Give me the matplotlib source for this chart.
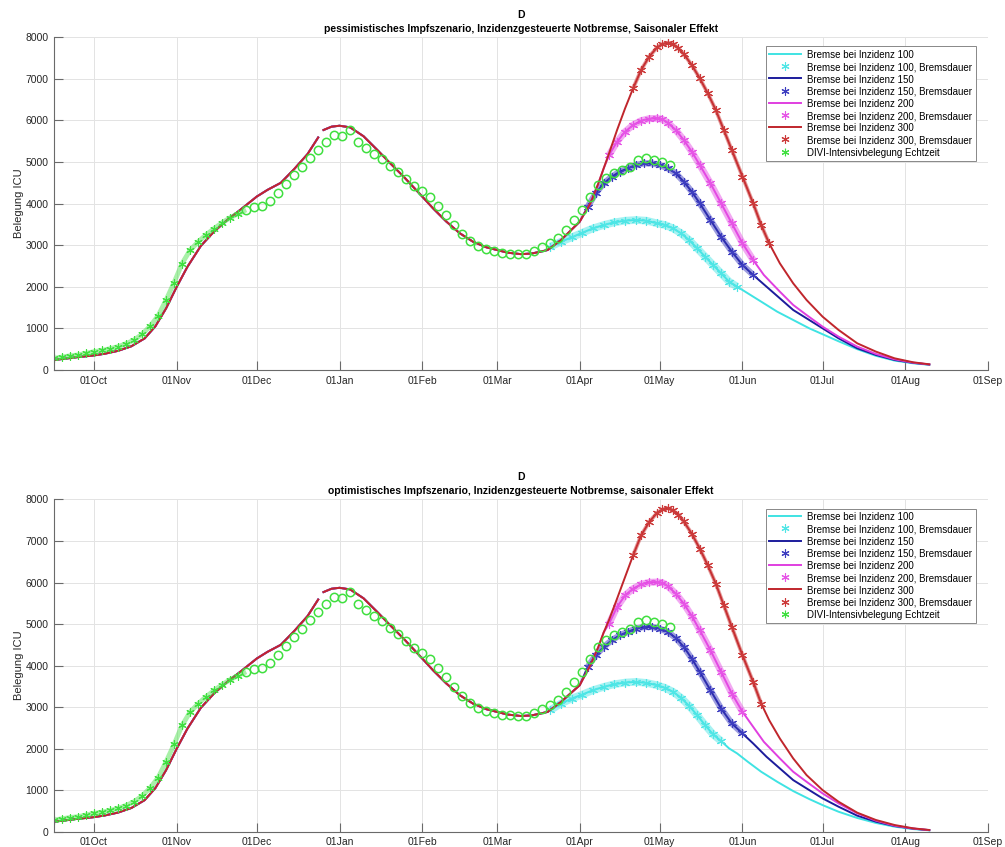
import numpy as np
import pandas as pd
import matplotlib
matplotlib.use("Agg")
import matplotlib.pyplot as plt
import matplotlib.dates as mdates

plt.rcParams['font.family'] = ['Liberation Sans', 'DejaVu Sans']


def to_dates(days):
    # "MM-DD" -> timestamp, season runs Sep 2020 .. Aug 2021
    out = []
    for d in days:
        year = 2020 if int(d[:2]) >= 9 else 2021
        out.append(pd.Timestamp(f"{year}-{d}"))
    return pd.DatetimeIndex(out)


# model curve shared by all scenarios (until mid March)
common_days = ["09-16", "09-20", "09-25", "10-01", "10-05", "10-10", "10-15", "10-20", "10-24",
               "10-28", "11-01", "11-05", "11-10", "11-15", "11-20", "11-25", "12-01", "12-05",
               "12-10", "12-15", "12-20", "12-24", "12-25", "12-26", "12-29", "01-01", "01-05",
               "01-10", "01-15", "01-20", "01-25", "02-01", "02-05", "02-10", "02-15", "02-20",
               "02-25", "03-01", "03-05", "03-10", "03-14", "03-17"]
common_vals = [240, 270, 310, 350, 390, 460, 570, 760, 1050,
               1480, 2000, 2480, 2980, 3330, 3610, 3860, 4170, 4330,
               4500, 4830, 5190, 5590, np.nan, 5770, 5850, 5873, 5833,
               5620, 5300, 4970, 4650, 4170, 3890, 3570, 3290, 3085,
               2950, 2885, 2820, 2785, 2800, 2840]

# DIVI ICU occupancy, every 3 days from 16 Sep 2020
divi_start = "2020-09-16"
divi_vals = [280, 310, 340, 360, 400, 440, 470, 510, 560, 630, 720, 860, 1050, 1300, 1680,
             2100, 2560, 2880, 3080, 3250, 3400, 3540, 3660, 3760, 3850, 3920, 3950, 4060,
             4250, 4470, 4680, 4880, 5090, 5290, 5490, 5650, 5620, 5780, 5480, 5330, 5200,
             5080, 4900, 4770, 4600, 4420, 4300, 4170, 3950, 3720, 3480, 3270, 3090, 2990,
             2900, 2860, 2820, 2800, 2780, 2790, 2850, 2960, 3045, 3165, 3365, 3606, 3846,
             4167, 4447, 4607, 4728, 4808, 4888, 5048, 5088, 5048, 5008, 4930]
divi_star_count = 24  # early values shown as asterisks, later ones as circles

# scenario curves after they split from the common curve
days_100 = ["03-21", "03-25", "03-29", "04-02", "04-06", "04-10", "04-14", "04-18", "04-22",
            "04-26", "04-30", "05-03", "05-06", "05-09", "05-12", "05-15", "05-18", "05-21",
            "05-24", "05-27", "05-30", "06-03", "06-08", "06-14", "06-20", "06-26", "07-01",
            "07-07", "07-14", "07-21", "07-28", "08-04", "08-10"]
days_150 = ["04-04", "04-07", "04-10", "04-13", "04-16", "04-19", "04-22", "04-25", "04-28",
            "05-01", "05-04", "05-07", "05-10", "05-13", "05-16", "05-20", "05-24", "05-28",
            "06-01", "06-05", "06-10", "06-15", "06-20", "06-25", "07-01", "07-07", "07-14",
            "07-21", "07-28", "08-04", "08-10"]
days_200 = ["04-10", "04-12", "04-15", "04-18", "04-21", "04-24", "04-27", "04-30", "05-02",
            "05-04", "05-07", "05-10", "05-13", "05-16", "05-20", "05-24", "05-28", "06-01",
            "06-05", "06-09", "06-15", "06-20", "06-25", "07-01", "07-07", "07-14", "07-21",
            "07-28", "08-04", "08-10"]
days_300 = ["03-20", "03-25", "04-01", "04-05", "04-08", "04-10", "04-12", "04-15", "04-18",
            "04-21", "04-24", "04-27", "04-30", "05-02", "05-04", "05-06", "05-08", "05-10",
            "05-13", "05-16", "05-19", "05-22", "05-25", "05-28", "06-01", "06-05", "06-08",
            "06-11", "06-15", "06-20", "06-25", "07-01", "07-07", "07-14", "07-21", "07-28",
            "08-04", "08-10"]

# pessimistic vaccination scenario (top)
top_100 = [2965, 3085, 3189, 3301, 3405, 3486, 3550, 3590, 3606, 3590, 3526, 3486, 3405, 3285,
           3125, 2925, 2724, 2524, 2324, 2123, 2003, 1843, 1643, 1402, 1202, 1002, 860, 690,
           500, 340, 225, 160, 125]
top_150 = [3926, 4247, 4487, 4647, 4768, 4848, 4928, 4968, 4968, 4928, 4848, 4728, 4527, 4287,
           4006, 3606, 3205, 2845, 2524, 2284, 2003, 1723, 1442, 1242, 1002, 761, 521, 361,
           240, 170, 130]
top_200 = [4850, 5168, 5489, 5729, 5889, 5994, 6042, 6050, 6026, 5946, 5769, 5529, 5248, 4928,
           4487, 4006, 3526, 3045, 2644, 2284, 1883, 1563, 1322, 1042, 801, 561, 385, 256,
           176, 133]
top_300 = [2885, 3125, 3566, 4006, 4487, 4850, 5208, 5769, 6290, 6771, 7212, 7532, 7756, 7837,
           7869, 7837, 7732, 7596, 7332, 7011, 6651, 6250, 5769, 5288, 4647, 4006, 3486, 3045,
           2564, 2083, 1683, 1282, 962, 641, 441, 280, 184, 136]
top_brake_start = ["03-20", "04-04", "04-12", "04-20"]
top_brake_end = ["05-30", "06-05", "06-08", "06-12"]

# optimistic vaccination scenario (bottom)
bot_100 = [2926, 3086, 3206, 3303, 3407, 3487, 3551, 3591, 3607, 3583, 3527, 3463, 3367, 3222,
           3030, 2806, 2565, 2341, 2180, 2004, 1884, 1683, 1443, 1202, 978, 786, 640, 480,
           330, 210, 120, 62, 32]
bot_150 = [3968, 4248, 4449, 4609, 4729, 4810, 4890, 4930, 4930, 4890, 4810, 4665, 4449, 4168,
           3848, 3407, 2966, 2605, 2365, 2124, 1804, 1523, 1242, 1042, 802, 601, 385, 240,
           136, 72, 36]
bot_200 = [4800, 5010, 5411, 5691, 5852, 5956, 6004, 6012, 5996, 5916, 5731, 5491, 5194, 4850,
           4369, 3848, 3327, 2886, 2525, 2164, 1764, 1443, 1202, 922, 681, 441, 265, 144,
           75, 38]
bot_300 = [2885, 3125, 3527, 4008, 4450, 4800, 5100, 5611, 6132, 6653, 7134, 7455, 7679, 7760,
           7792, 7735, 7631, 7471, 7174, 6814, 6413, 5972, 5451, 4930, 4248, 3607, 3086, 2685,
           2244, 1764, 1363, 1002, 721, 457, 281, 160, 80, 40]
bot_brake_start = ["03-20", "04-04", "04-12", "04-20"]
bot_brake_end = ["05-26", "06-01", "06-04", "06-09"]

incidences = ["100", "150", "200", "300"]
colors = ["#3fe3e3", "#1c1c9c", "#e03fe0", "#c0262c"]
marker_colors = ["#50e6e6", "#3d3dc0", "#e655e6", "#cc3a3a"]
band_widths = [5.5, 4.5, 5, 2.8]
divi_color = "#3fdf3f"

titles = ["pessimistisches Impfszenario, Inzidenzgesteuerte Notbremse, Saisonaler Effekt",
          "optimistisches Impfszenario, Inzidenzgesteuerte Notbremse, saisonaler Effekt"]

asterisk = (6, 2, 0)


def draw_panel(ax, scen_vals, brake_start, brake_end, title):
    c_dates = to_dates(common_days)
    c_vals = np.array(common_vals, dtype=float)
    scen_days = [days_100, days_150, days_200, days_300]

    # base path = common curve followed by the 300 scenario
    base_d = c_dates.append(to_dates(days_300))
    base_v = np.concatenate([c_vals, scen_vals[3]])

    for i, inc in enumerate(incidences):
        d = to_dates(scen_days[i])
        v = np.array(scen_vals[i], dtype=float)
        keep = base_d < d[0]
        line_d = base_d[keep].append(d)
        line_v = np.concatenate([base_v[keep], v])
        ax.plot(line_d, line_v, color=colors[i], lw=1.4,
                label=f"Bremse bei Inzidenz {inc}")
        s = to_dates([brake_start[i]])[0]
        e = to_dates([brake_end[i]])[0]
        sel = (d >= s) & (d <= e)
        # braking period: dense asterisk band
        ax.plot(d[sel], v[sel], color=marker_colors[i], lw=band_widths[i],
                alpha=0.5, solid_capstyle="butt")
        ax.plot(d[sel], v[sel], ls="none", marker=asterisk, ms=6.5, mew=0.8,
                color=marker_colors[i], label=f"Bremse bei Inzidenz {inc}, Bremsdauer")

    g_dates = pd.date_range(divi_start, periods=len(divi_vals), freq="3D")
    g_vals = np.array(divi_vals, dtype=float)
    n = divi_star_count
    ax.plot(g_dates[:n + 1], g_vals[:n + 1], color=divi_color, lw=3.5, alpha=0.45,
            solid_capstyle="butt")
    ax.plot(g_dates[:n], g_vals[:n], ls="none", marker=asterisk,
            ms=6, mew=0.8, color=divi_color, label="DIVI-Intensivbelegung Echtzeit")
    ax.plot(g_dates[n:], g_vals[n:], ls="none", marker="o",
            ms=6, mew=1.1, mfc="none", mec=divi_color)

    ax.set_xlim(pd.Timestamp("2020-09-16"), pd.Timestamp("2021-09-01"))
    ax.set_ylim(0, 8000)
    ax.set_yticks(range(0, 8001, 1000))
    ax.xaxis.set_major_locator(mdates.MonthLocator())
    ax.xaxis.set_major_formatter(mdates.DateFormatter("%d%b"))
    ax.grid(True, color="#e3e3e3", lw=0.7)
    ax.set_axisbelow(True)
    for side in ["top", "right"]:
        ax.spines[side].set_visible(False)
    for side in ["left", "bottom"]:
        ax.spines[side].set_color("#6a6a6a")
        ax.spines[side].set_linewidth(0.8)
    ax.tick_params(direction="in", length=6.5, width=0.8, color="#6a6a6a",
                   labelsize=7.5, labelcolor="#262626", pad=4)
    ax.set_ylabel("Belegung ICU", fontsize=8, color="#262626", labelpad=1)
    ax.set_title("D\n" + title, fontsize=7.5, fontweight="bold", pad=4, linespacing=1.5)
    leg = ax.legend(loc="upper right", bbox_to_anchor=(0.992, 0.987), fontsize=7,
                    frameon=True, fancybox=False, framealpha=1, edgecolor="#888888",
                    handlelength=3.3, handleheight=1.2, handletextpad=0.6,
                    labelspacing=0.2, borderpad=0.35, markerscale=0.9)
    leg.get_frame().set_linewidth(0.7)


fig = plt.figure(figsize=(10.05, 8.47), dpi=100)
ax_top = fig.add_axes([0.0537, 0.5632, 0.9294, 0.3928])
ax_bot = fig.add_axes([0.0537, 0.0181, 0.9294, 0.3922])

draw_panel(ax_top, [top_100, top_150, top_200, top_300], top_brake_start, top_brake_end, titles[0])
draw_panel(ax_bot, [bot_100, bot_150, bot_200, bot_300], bot_brake_start, bot_brake_end, titles[1])

fig.savefig("out.png", dpi=100)
